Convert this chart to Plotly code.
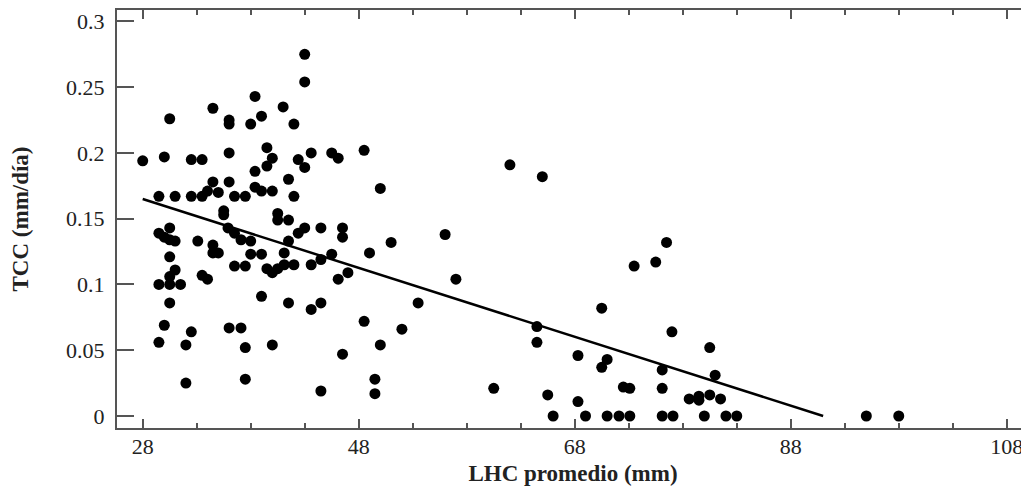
import plotly.graph_objects as go

# LHC promedio (mm) and TCC (mm/día)
lhc_promedio = [
    28.0, 30.0, 30.5, 32.5, 33.5, 34.5, 36.0, 36.0, 36.0, 38.4,
    39.0, 38.0, 41.0, 42.0, 43.0, 43.0, 39.5, 40.0, 38.4, 39.5,
    42.4, 43.0, 43.6, 45.5, 46.1, 48.5, 41.5, 34.5, 34.0, 35.0,
    36.0, 29.5, 31.0, 32.5, 33.5, 36.5, 37.5, 38.4, 39.0, 40.0,
    42.0, 50.0, 35.5, 35.5, 40.5, 40.5, 41.5, 30.5, 29.5, 30.0,
    30.5, 31.0, 33.1, 34.5, 34.5, 35.0, 35.9, 36.5, 37.1, 38.0,
    38.0, 39.0, 41.5, 42.4, 43.0, 44.5, 46.5, 46.5, 41.1, 30.5,
    36.5, 37.5, 31.0, 30.5, 29.5, 30.5, 31.5, 33.5, 34.0, 39.5,
    40.0, 40.5, 41.1, 42.0, 43.6, 44.5, 45.5, 46.1, 47.0, 49.0,
    51.0, 56.0, 57.0, 30.5, 39.0, 41.5, 43.6, 44.5, 30.0, 32.5,
    36.0, 37.1, 29.5, 32.0, 37.5, 40.0, 46.5, 32.0, 37.5, 44.5,
    48.5, 53.5, 52.0, 50.0, 49.5, 49.5, 60.5, 62.0, 65.0, 64.5,
    64.5, 65.5, 66.0, 68.3, 68.3, 76.5, 73.5, 75.5, 70.5, 77.0,
    71.0, 70.5, 76.1, 80.5, 81.0, 72.5, 73.1, 76.1, 78.6, 79.5,
    79.5, 80.5, 81.5, 69.0, 71.0, 72.1, 73.1, 76.1, 77.1, 80.0,
    82.0, 83.0, 95.0, 98.0,
]
tcc = [
    0.194, 0.197, 0.226, 0.195, 0.195, 0.234, 0.225, 0.222, 0.200, 0.243,
    0.228, 0.222, 0.235, 0.222, 0.275, 0.254, 0.204, 0.196, 0.186, 0.190,
    0.195, 0.189, 0.200, 0.200, 0.196, 0.202, 0.180, 0.178, 0.171, 0.170,
    0.178, 0.167, 0.167, 0.167, 0.167, 0.167, 0.167, 0.174, 0.171, 0.171,
    0.167, 0.173, 0.156, 0.153, 0.154, 0.149, 0.149, 0.143, 0.139, 0.136,
    0.134, 0.133, 0.133, 0.130, 0.124, 0.124, 0.143, 0.139, 0.134, 0.133,
    0.123, 0.123, 0.133, 0.139, 0.143, 0.143, 0.143, 0.136, 0.124, 0.121,
    0.114, 0.114, 0.111, 0.106, 0.100, 0.100, 0.100, 0.107, 0.104, 0.112,
    0.109, 0.112, 0.115, 0.115, 0.115, 0.119, 0.123, 0.104, 0.109, 0.124,
    0.132, 0.138, 0.104, 0.086, 0.091, 0.086, 0.081, 0.086, 0.069, 0.064,
    0.067, 0.067, 0.056, 0.054, 0.052, 0.054, 0.047, 0.025, 0.028, 0.019,
    0.072, 0.086, 0.066, 0.054, 0.028, 0.017, 0.021, 0.191, 0.182, 0.068,
    0.056, 0.016, 0.000, 0.046, 0.011, 0.132, 0.114, 0.117, 0.082, 0.064,
    0.043, 0.037, 0.035, 0.052, 0.031, 0.022, 0.021, 0.021, 0.013, 0.015,
    0.012, 0.016, 0.013, 0.000, 0.000, 0.000, 0.000, 0.000, 0.000, 0.000,
    0.000, 0.000, 0.000, 0.000,
]

# fitted regression line
trend_x = [28.0, 91.0]
trend_y = [0.165, 0.0]

x_major = [28, 48, 68, 88, 108]
x_minor = [33, 38, 43, 53, 58, 63, 73, 78, 83, 93, 98, 103]
y_ticks = [0, 0.05, 0.1, 0.15, 0.2, 0.25, 0.3]
y_labels = ["0", "0.05", "0.1", "0.15", "0.2", "0.25", "0.3"]

FONT = "Liberation Serif"
TXT = "#222222"
AX = "#555555"

fig = go.Figure()
fig.add_trace(go.Scatter(
    x=lhc_promedio, y=tcc, mode="markers",
    marker=dict(color="black", size=11, line=dict(width=0)),
    showlegend=False, hoverinfo="x+y",
))
fig.add_trace(go.Scatter(
    x=trend_x, y=trend_y, mode="lines",
    line=dict(color="black", width=2.5),
    showlegend=False,
))

# the page body adds an 8px margin, so the figure is 8px smaller
fig.update_layout(
    width=1021, height=483,
    margin=dict(l=109, r=0, t=2, b=63),
    plot_bgcolor="white", paper_bgcolor="white",
    font=dict(family=FONT, color=TXT, size=22),
    xaxis=dict(
        range=[25.62, 110.06], automargin=False,
        tickmode="array", tickvals=x_major, ticktext=[str(v) for v in x_major],
        ticks="inside", ticklen=9, tickwidth=1.5, tickcolor=AX,
        minor=dict(tickmode="array", tickvals=x_minor, ticks="inside",
                   ticklen=5, tickwidth=1.5, tickcolor=AX, showgrid=False),
        showline=True, linecolor=AX, linewidth=2, mirror="ticks",
        showgrid=False, zeroline=False,
        tickfont=dict(family=FONT, size=22, color=TXT),
        ticklabelstandoff=-2,
        title=dict(text="<b>LHC promedio (mm)</b>",
                   font=dict(family=FONT, size=23, color=TXT), standoff=6),
    ),
    yaxis=dict(
        range=[-0.00913, 0.3087], automargin=False,
        tickmode="array", tickvals=y_ticks, ticktext=y_labels,
        ticks="inside", ticklen=17, tickwidth=1.5, tickcolor=AX,
        showline=True, linecolor=AX, linewidth=2, mirror=False,
        showgrid=False, zeroline=False,
        tickfont=dict(family=FONT, size=22, color=TXT),
        ticklabelstandoff=6,
        title=dict(text="<b>TCC (mm/día)</b>",
                   font=dict(family=FONT, size=23, color=TXT), standoff=31),
    ),
    yaxis2=dict(
        overlaying="y", side="right", matches="y", automargin=False,
        range=[-0.00913, 0.3087],
        tickmode="array", tickvals=y_ticks,
        ticks="inside", ticklen=14, tickwidth=1.5, tickcolor=AX,
        showticklabels=False, showline=False, showgrid=False, zeroline=False,
    ),
)

fig.write_html("out.html")
